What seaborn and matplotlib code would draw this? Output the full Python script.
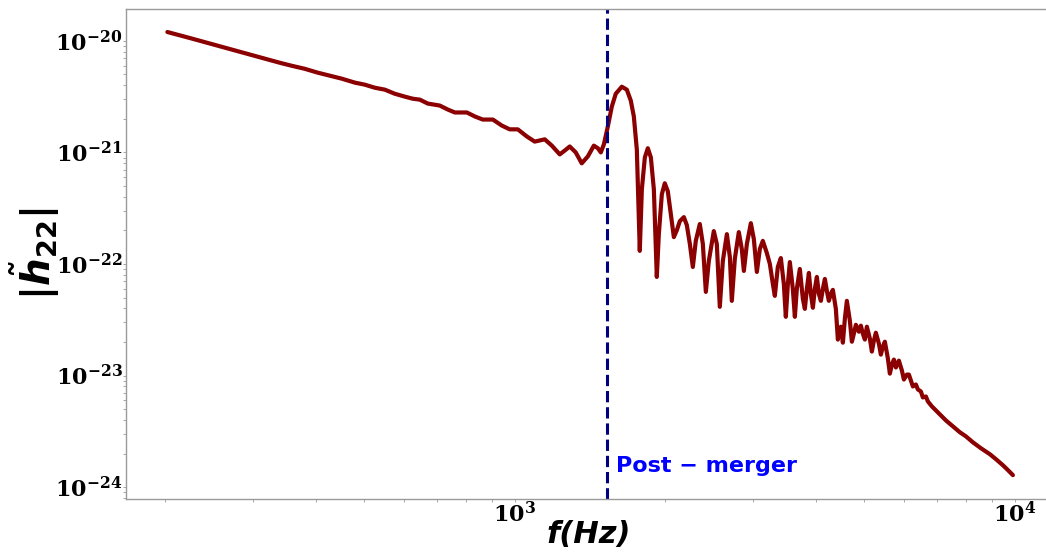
import matplotlib
matplotlib.use("Agg")
import matplotlib.pyplot as plt
import pandas as pd
import seaborn as sns
from matplotlib.ticker import LogLocator, NullFormatter

# Frequency-domain amplitude of the (2,2) mode, |h22(f)|
freq_hz = [
    202, 224, 251, 282, 312, 339, 358, 380, 404, 427, 451, 479, 501, 525, 550, 575,
    603, 625, 646, 670, 708, 735, 759, 802, 832, 863, 904, 942, 977, 1014, 1057, 1096,
    1148, 1186, 1230, 1259, 1288, 1324, 1361, 1400, 1439, 1466, 1486, 1507, 1535, 1563,
    1592, 1637, 1675, 1706, 1730, 1754, 1778, 1795, 1820, 1845, 1871, 1897, 1923, 1941,
    1968, 1995, 2023, 2051, 2080, 2109, 2138, 2178, 2208, 2239, 2270, 2301, 2344, 2377,
    2410, 2443, 2500, 2535, 2570, 2606, 2655, 2692, 2716, 2754, 2805, 2844, 2871, 2911,
    2965, 3006, 3048, 3090, 3133, 3192, 3236, 3281, 3311, 3357, 3404, 3451, 3483, 3516,
    3548, 3597, 3631, 3664, 3715, 3767, 3802, 3837, 3873, 3908, 3945, 3981, 4018, 4055,
    4093, 4130, 4169, 4207, 4246, 4285, 4325, 4385, 4426, 4467, 4487, 4529, 4571, 4613,
    4677, 4721, 4764, 4808, 4875, 4920, 4966, 5012, 5058, 5129, 5176, 5224, 5272, 5346,
    5395, 5445, 5495, 5572, 5623, 5675, 5728, 5781, 5861, 5943, 5998, 6081, 6138, 6252,
    6339, 6397, 6486, 6546, 6637, 6699, 6823, 6950, 7079, 7278, 7516, 7762, 7980, 8241,
    8551, 8913, 9162, 9462, 9683, 9908,
]
h22_abs = [
    1.20e-20, 1.06e-20, 9.21e-21, 7.98e-21, 7.05e-21, 6.36e-21, 5.98e-21, 5.62e-21,
    5.18e-21, 4.87e-21, 4.58e-21, 4.22e-21, 4.05e-21, 3.80e-21, 3.65e-21, 3.36e-21,
    3.16e-21, 3.03e-21, 2.97e-21, 2.74e-21, 2.63e-21, 2.42e-21, 2.28e-21, 2.28e-21,
    2.10e-21, 1.97e-21, 1.97e-21, 1.74e-21, 1.61e-21, 1.61e-21, 1.39e-21, 1.25e-21,
    1.31e-21, 1.15e-21, 9.60e-22, 1.04e-21, 1.13e-21, 1.00e-21, 7.98e-22, 9.21e-22,
    1.15e-21, 1.09e-21, 1.00e-21, 1.18e-21, 1.71e-21, 2.57e-21, 3.36e-21, 3.88e-21,
    3.65e-21, 2.91e-21, 2.10e-21, 1.06e-21, 1.31e-22, 4.67e-22, 9.02e-22, 1.09e-21,
    9.02e-22, 4.67e-22, 7.65e-23, 1.85e-22, 4.22e-22, 5.29e-22, 4.48e-22, 2.80e-22,
    1.74e-22, 2.01e-22, 2.42e-22, 2.63e-22, 2.23e-22, 1.51e-22, 9.40e-23, 1.61e-22,
    2.28e-22, 1.51e-22, 5.62e-23, 1.06e-22, 1.97e-22, 1.51e-22, 4.13e-23, 1.06e-22,
    1.85e-22, 1.15e-22, 4.67e-23, 1.11e-22, 1.93e-22, 1.36e-22, 8.66e-23, 1.51e-22,
    2.32e-22, 1.67e-22, 8.48e-23, 1.36e-22, 1.61e-22, 1.25e-22, 1.00e-22, 6.63e-23,
    5.18e-23, 9.40e-23, 1.13e-22, 6.63e-23, 3.36e-23, 6.63e-23, 1.04e-22, 5.98e-23,
    3.36e-23, 5.98e-23, 9.02e-23, 4.87e-23, 3.96e-23, 5.98e-23, 8.31e-23, 5.40e-23,
    4.05e-23, 5.98e-23, 7.65e-23, 5.40e-23, 4.67e-23, 5.98e-23, 7.34e-23, 5.74e-23,
    4.67e-23, 5.40e-23, 5.86e-23, 3.96e-23, 2.10e-23, 2.63e-23, 2.74e-23, 1.97e-23,
    3.23e-23, 4.67e-23, 3.10e-23, 2.01e-23, 2.37e-23, 2.85e-23, 2.47e-23, 2.80e-23,
    2.37e-23, 2.10e-23, 2.74e-23, 2.14e-23, 1.64e-23, 2.05e-23, 2.42e-23, 1.93e-23,
    1.54e-23, 1.82e-23, 2.01e-23, 1.42e-23, 1.04e-23, 1.25e-23, 1.39e-23, 1.18e-23,
    1.36e-23, 1.11e-23, 9.21e-24, 1.02e-23, 1.02e-23, 7.98e-24, 8.31e-24, 7.50e-24,
    7.20e-24, 6.36e-24, 6.49e-24, 5.86e-24, 5.29e-24, 4.87e-24, 4.48e-24, 3.96e-24,
    3.50e-24, 3.10e-24, 2.85e-24, 2.52e-24, 2.23e-24, 1.97e-24, 1.78e-24, 1.57e-24,
    1.42e-24, 1.28e-24,
]

merger_freq = 1530
x_ticks = [1e3, 1e4]
x_ticklabels = [r"$\mathdefault{10^{3}}$", r"$\mathdefault{10^{4}}$"]
y_ticks = [1e-24, 1e-23, 1e-22, 1e-21, 1e-20]
y_ticklabels = [r"$\mathdefault{10^{-24}}$", r"$\mathdefault{10^{-23}}$",
                r"$\mathdefault{10^{-22}}$", r"$\mathdefault{10^{-21}}$",
                r"$\mathdefault{10^{-20}}$"]

df = pd.DataFrame({"f": freq_hz, "h": h22_abs})

sns.set_style("white")
plt.rcParams["font.family"] = ["DejaVu Sans"]
plt.rcParams["mathtext.fontset"] = "dejavusans"
plt.rcParams["text.color"] = "black"
plt.rcParams["axes.labelcolor"] = "black"
plt.rcParams["xtick.color"] = "black"
plt.rcParams["ytick.color"] = "black"

fig = plt.figure(figsize=(10.46, 5.55), dpi=100)
ax = fig.add_axes([0.1205, 0.1009, 0.8852, 0.8829])

sns.lineplot(data=df, x="f", y="h", ax=ax, color="#8b0000", linewidth=3,
             estimator=None, sort=False)
ax.set_xscale("log")
ax.set_yscale("log")
ax.set_xlim(167, 11860)
ax.set_ylim(7.82e-25, 1.93e-20)

ax.axvline(merger_freq, color="#000080", linestyle="--", linewidth=2.2)
ax.text(merger_freq * 1.04, 1.36e-24, "Post − merger", color="blue",
        fontweight="bold", fontsize=16, va="baseline", ha="left")

tick_font = dict(family="DejaVu Serif", weight="bold", size=16)
ax.set_xticks(x_ticks)
ax.set_xticklabels(x_ticklabels, fontdict=tick_font)
ax.set_yticks(y_ticks)
ax.set_yticklabels(y_ticklabels, fontdict=tick_font)
ax.xaxis.set_minor_locator(LogLocator(base=10, subs=range(2, 10), numticks=20))
ax.yaxis.set_minor_locator(LogLocator(base=10, subs=range(2, 10), numticks=20))
ax.xaxis.set_minor_formatter(NullFormatter())
ax.yaxis.set_minor_formatter(NullFormatter())
ax.tick_params(which="both", direction="out", color="#9a9a9a", width=0.6,
               labelcolor="black", bottom=True, left=True, pad=0)
ax.tick_params(which="major", length=2.5)
ax.tick_params(which="minor", length=2)

for side in ("top", "bottom", "left"):
    ax.spines[side].set_color("#9a9a9a")
    ax.spines[side].set_linewidth(1.0)
ax.spines["right"].set_visible(False)

ax.set_xlabel("f(Hz)", fontsize=22, fontweight="bold", style="italic")
ax.xaxis.set_label_coords(0.5, -0.043)
ax.set_ylabel(r"$\mathbf{|}\tilde{\boldsymbol{h}}_{\mathbf{22}}\mathbf{|}$",
              fontsize=28)
ax.yaxis.set_label_coords(-0.069, 0.5)

fig.savefig("out.png", dpi=100)
